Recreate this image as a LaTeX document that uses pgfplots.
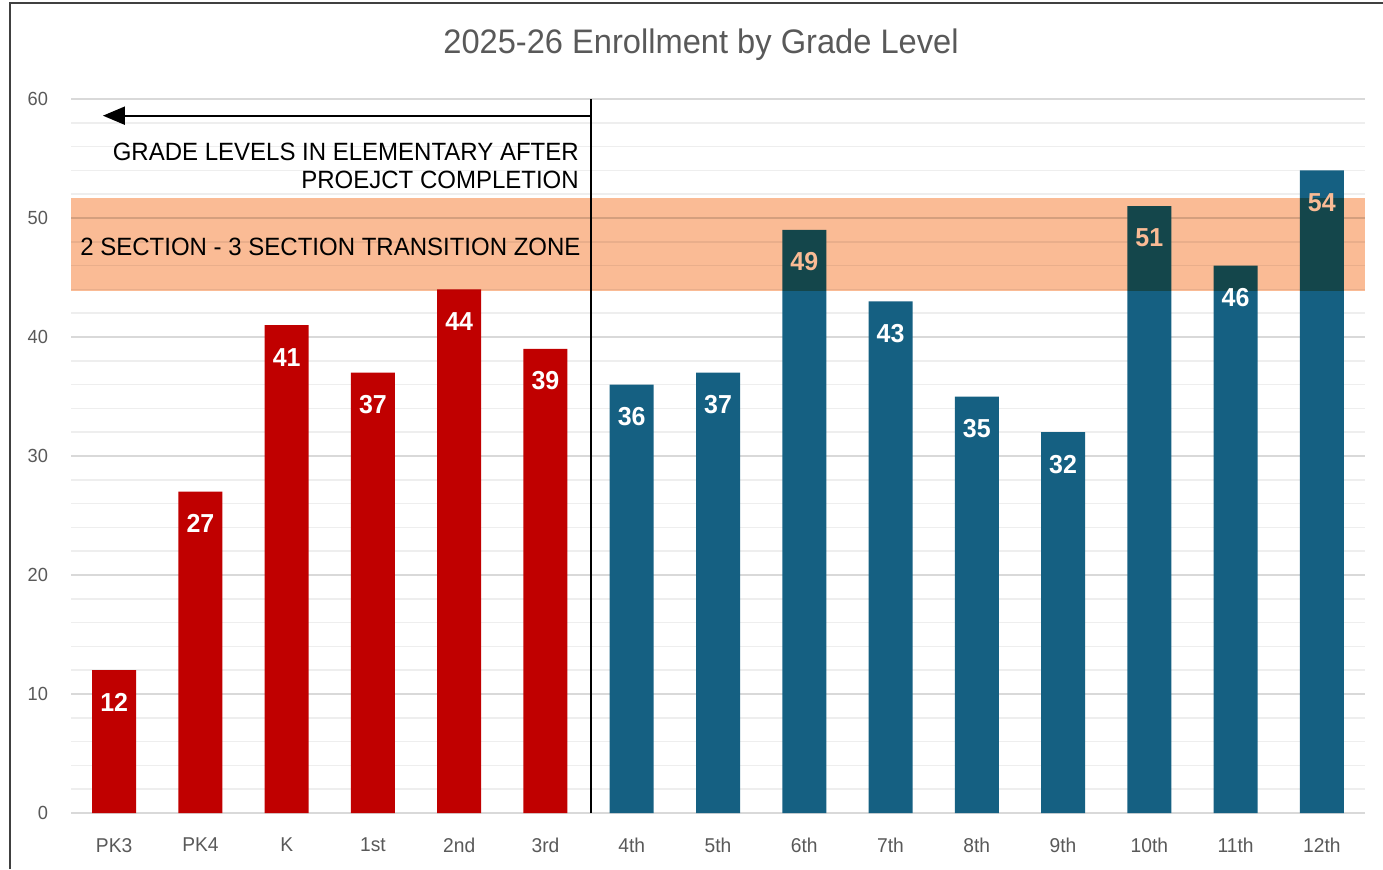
\documentclass[border=0pt]{standalone}
\usepackage{fontspec}
\setmainfont{Liberation Sans}[FakeStretch=0.96]
\usepackage{pgfplots}
\pgfplotsset{compat=1.18}
\usetikzlibrary{arrows.meta}
\definecolor{redbar}{HTML}{C00000}
\definecolor{bluebar}{HTML}{156082}
\definecolor{bandc}{HTML}{FABB95}
\definecolor{txtgray}{HTML}{595959}
\definecolor{majgrid}{HTML}{D9D9D9}
\definecolor{mingrid}{HTML}{EEEEEE}
\definecolor{framec}{HTML}{404040}
\begin{document}
\begin{tikzpicture}
\useasboundingbox (0,0) rectangle (691.5pt,434.5pt);
\draw[framec, line width=1pt] (5pt,0) -- (5pt,433pt) -- (691.5pt,433pt);
\node[txtgray, font=\fontsize{17}{20}\selectfont] at (350.5pt,412pt) {2025-26 Enrollment by Grade Level};
\begin{axis}[
  at={(35.5pt,28pt)}, anchor=south west,
  scale only axis, width=647pt, height=357pt,
  xmin=-0.5, xmax=14.5, ymin=0, ymax=60,
  axis line style={draw=none},
  xtick={0,...,14},
  xticklabels={PK3,PK4,K,1st,2nd,3rd,4th,5th,6th,7th,8th,9th,10th,11th,12th},
  ytick={0,10,...,60},
  minor y tick num=4,
  ymajorgrids, yminorgrids,
  major grid style={majgrid, line width=0.9pt},
  minor grid style={mingrid, line width=0.8pt},
  major tick length=0pt, minor tick length=0pt,
  /pgf/number format/assume math mode=true,
  tick label style={txtgray},
  xticklabel style={font=\fontsize{10}{12}\selectfont, yshift=-9pt},
  yticklabel style={font=\fontsize{9.5}{11}\selectfont, xshift=-8pt},
  nodes near coords,
  every node near coord/.append style={font=\bfseries\fontsize{13}{15}\selectfont, anchor=center, yshift=-16pt},
]
\addplot[ybar, bar width=22pt, bar shift=0pt, fill=redbar, draw=none,
  every node near coord/.append style={white}] coordinates {
  (0,12) (1,27) (2,41) (3,37) (4,44) (5,39)};
\addplot[ybar, bar width=22pt, bar shift=0pt, fill=bluebar, draw=none,
  every node near coord/.append style={white}] coordinates {
  (6,36) (7,37) (9,43) (10,35) (11,32) (13,46)};
\addplot[ybar, bar width=22pt, bar shift=0pt, fill=bluebar, draw=none,
  every node near coord/.append style={bandc}] coordinates {
  (8,49) (12,51) (14,54)};
\fill[bandc, blend mode=multiply] (axis cs:-0.5,43.9) rectangle (axis cs:14.5,51.7);
\draw[black, line width=0.9pt] (axis cs:5.53,0) -- (axis cs:5.53,60.1);
\draw[black, line width=1pt, -{Triangle[length=11pt, width=9pt]}] (axis cs:5.53,58.6) -- (axis cs:-0.13,58.6);
\node[anchor=east, align=right, font=\fontsize{12.5}{14}\selectfont, inner sep=0pt] at (axis cs:5.39,54.35) {GRADE LEVELS IN ELEMENTARY AFTER\\PROEJCT COMPLETION};
\node[anchor=east, font=\fontsize{12.5}{14}\selectfont, inner sep=0pt] at (axis cs:5.41,47.6) {2 SECTION - 3 SECTION TRANSITION ZONE};
\end{axis}
\end{tikzpicture}
\end{document}
